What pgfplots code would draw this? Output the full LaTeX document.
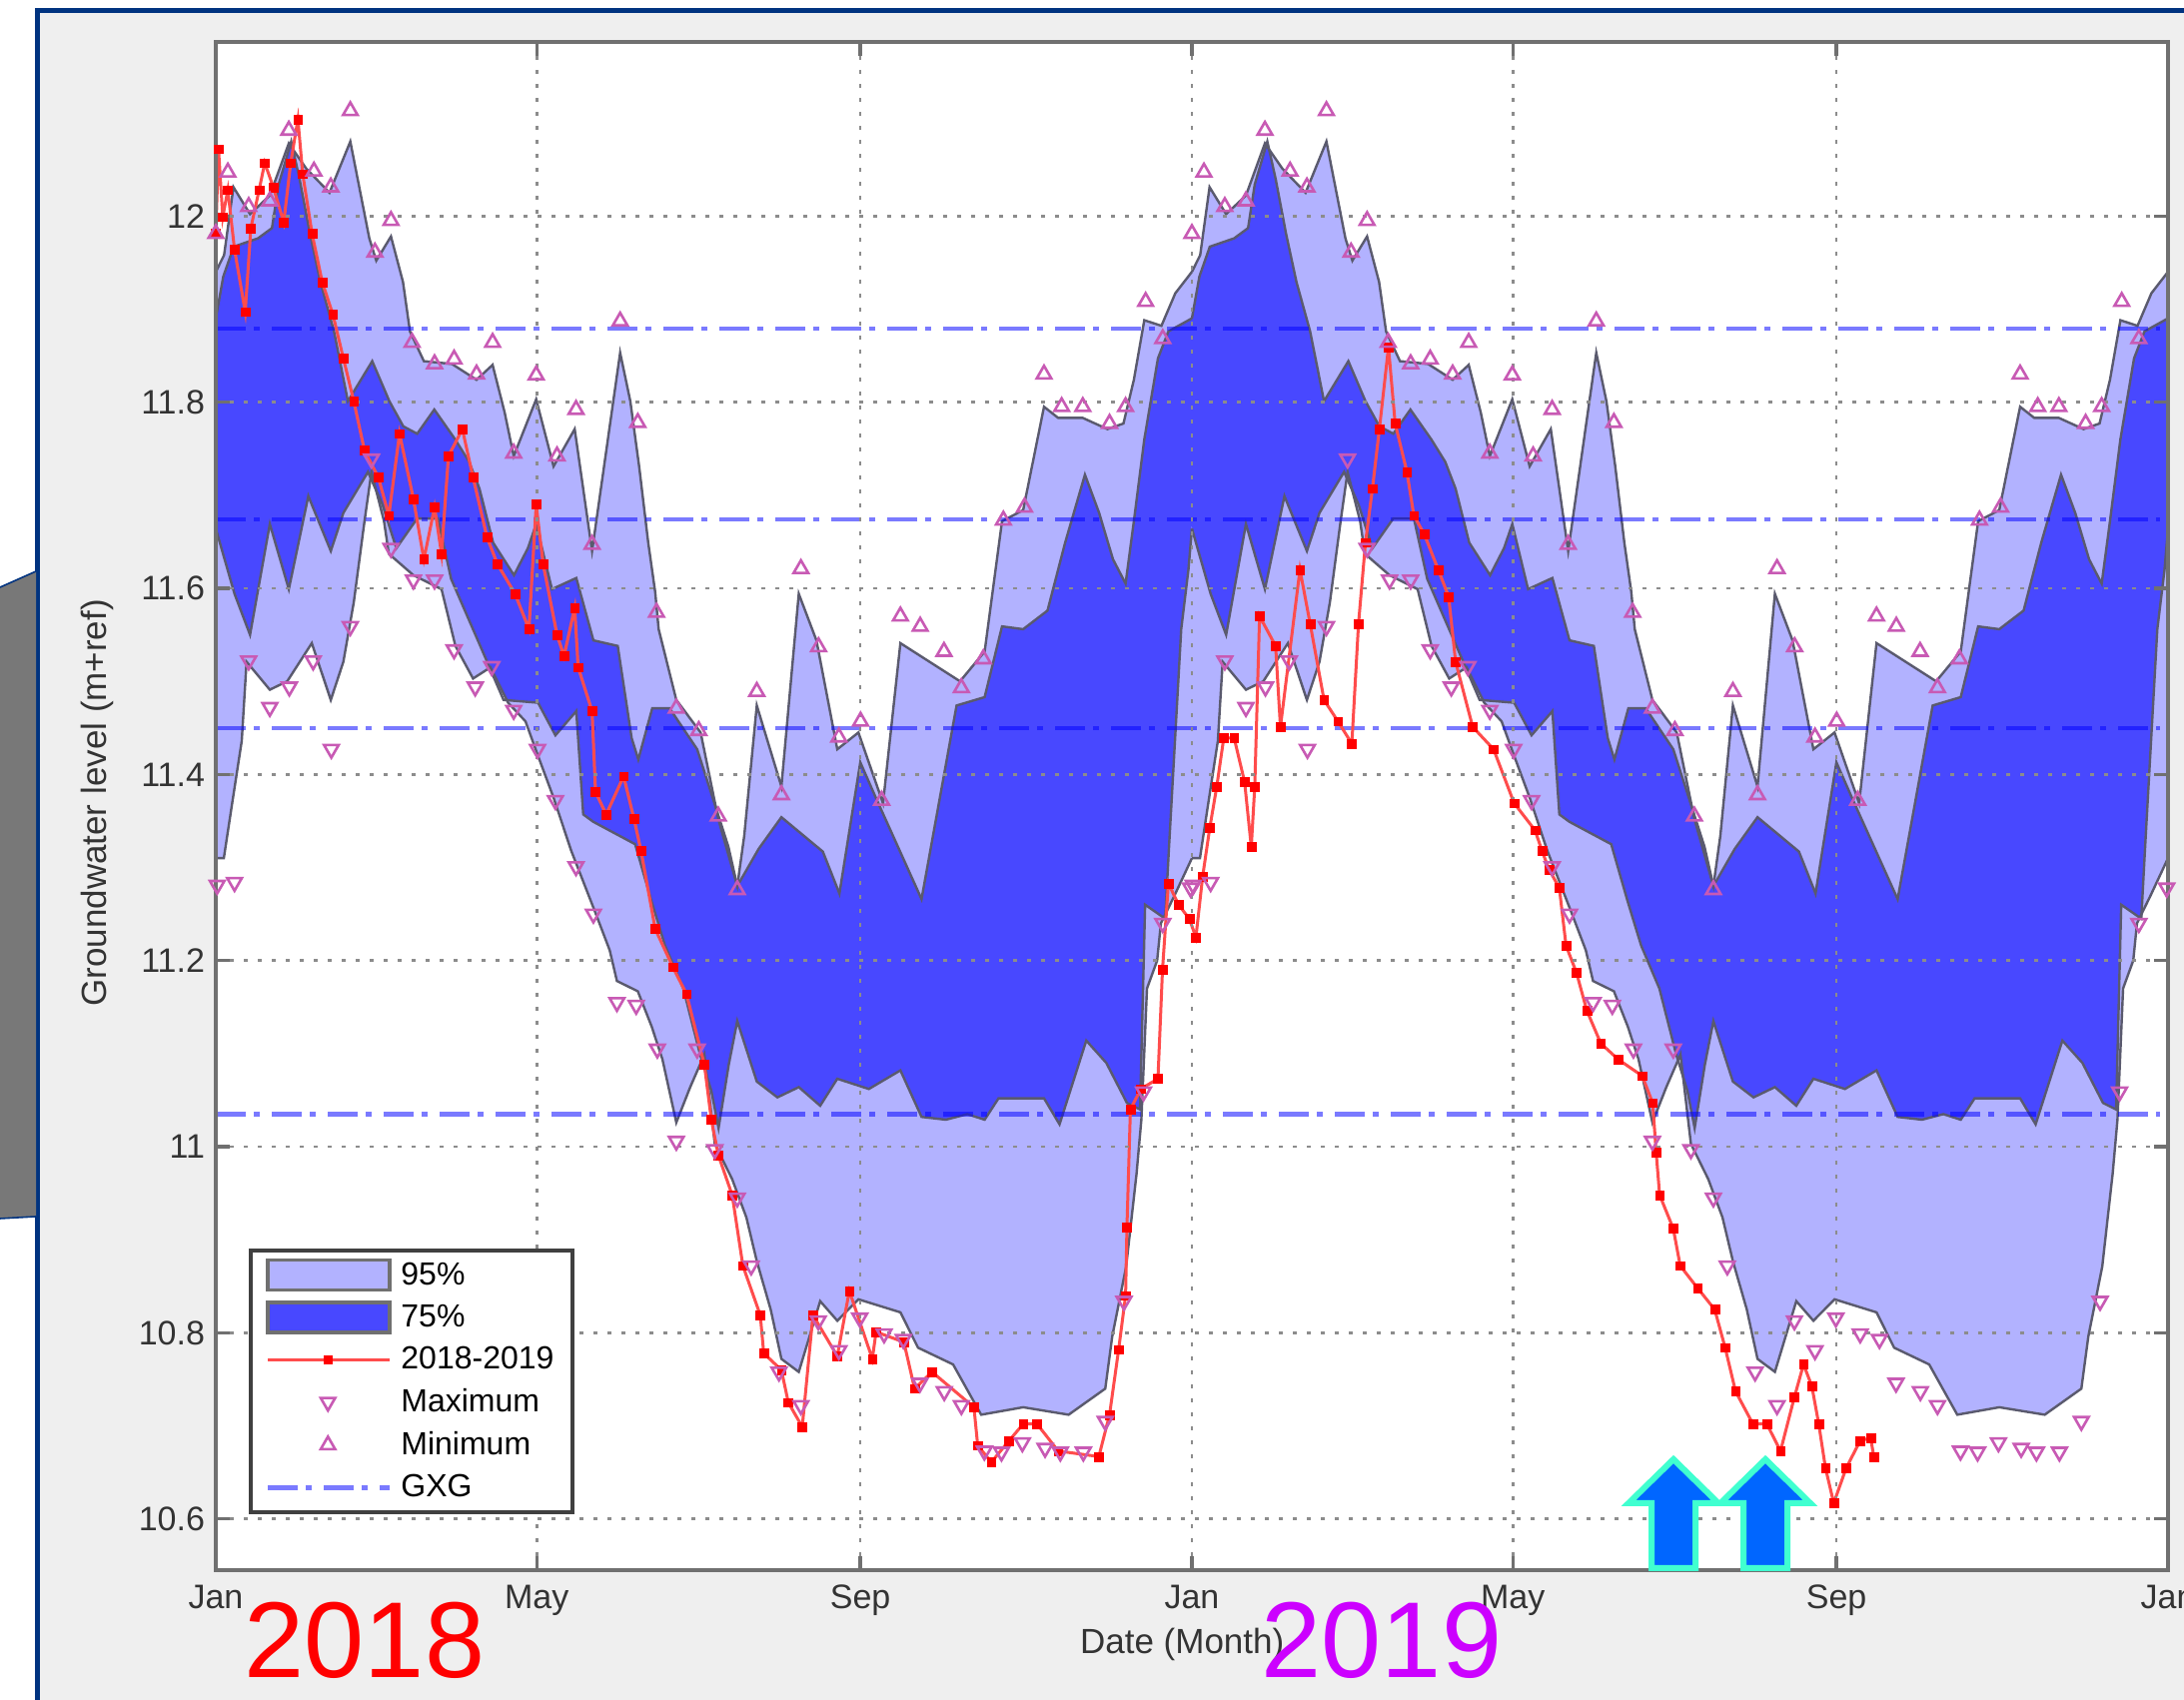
\documentclass[border=0pt]{standalone}
\usepackage{fontspec}
\setmainfont{Liberation Sans}
\usepackage{pgfplots}
\usepackage{pgfplotstable}
\pgfplotsset{compat=1.18}

\definecolor{band95}{HTML}{B2B2FF}
\definecolor{band75}{HTML}{4848FF}
\definecolor{edge}{HTML}{5A5A6E}
\definecolor{frame}{HTML}{707070}
\definecolor{marker}{HTML}{C85AB4}
\definecolor{panel}{HTML}{EFEFEF}
\definecolor{navy}{HTML}{003380}
\definecolor{textgrey}{HTML}{333333}

\pgfplotsset{
  swatch/.style={legend image code/.code={\draw[##1] (0pt,-7.5pt) rectangle (61pt,7.5pt);}},
  linekey/.style={legend image code/.code={\draw[##1] plot coordinates {(0pt,0pt)(30pt,0pt)(61pt,0pt)};}},
  markkey/.style={legend image code/.code={\draw[##1] plot coordinates {(30pt,0pt)};}},
  dashkey/.style={legend image code/.code={\draw[##1] (0pt,0pt) -- (61pt,0pt);}},
}

% one year of the percentile bands (day of year, level); the chart repeats it
\pgfplotstableread{
d v
0 11.94
3.1 11.958
6.6 12.031
12.8 12.002
20.2 12.022
27.3 12.078
33.8 12.051
42.5 12.025
50.3 12.080
57.4 11.976
60 11.952
65.5 11.978
70 11.929
72.6 11.876
77.8 11.844
88.3 11.841
97.5 11.824
103.5 11.840
108 11.789
111.4 11.742
119.8 11.803
126.3 11.731
134.2 11.771
140.7 11.640
151.2 11.853
155 11.801
158.3 11.731
161.7 11.649
164.3 11.596
165.6 11.556
172.2 11.480
181.3 11.445
187.9 11.352
195 11.280
197.6 11.334
202.3 11.474
211.5 11.387
218 11.594
224.6 11.544
232.4 11.427
240.3 11.445
249.5 11.369
256 11.541
278.3 11.500
287.5 11.532
294 11.672
301.9 11.684
309.7 11.795
315 11.783
324.2 11.783
333.4 11.771
339.4 11.777
343.3 11.824
347.2 11.888
353.6 11.882
358.8 11.917
365 11.94
}\upperNF

\pgfplotstableread{
d v
0 11.89
2.8 11.935
6.7 11.967
15.8 11.976
21 11.987
23.5 12.034
28.2 12.080
31.3 12.040
35.2 11.981
39.1 11.929
44.2 11.876
49.4 11.801
58.5 11.844
64.9 11.801
70.1 11.774
75.3 11.766
81.7 11.792
89.5 11.760
94.7 11.736
98.6 11.707
103.7 11.649
111.5 11.614
116.7 11.643
119.8 11.669
125.7 11.599
134.8 11.611
141.2 11.544
150.3 11.538
155.5 11.439
158 11.416
163.2 11.471
169.7 11.471
180 11.427
191.7 11.322
195 11.280
203 11.32
211.5 11.354
227 11.317
233.2 11.272
241 11.413
246.8 11.375
263.9 11.266
277 11.474
287.5 11.483
294 11.559
301.9 11.556
311 11.576
317.6 11.649
325 11.722
330.3 11.681
335.5 11.631
340.2 11.605
343.3 11.672
347.2 11.760
352.3 11.847
356.2 11.876
365 11.89
}\upperSF

\pgfplotstableread{
d v
0 11.664
7 11.594
12.8 11.550
20.2 11.669
27.3 11.599
34.6 11.699
43 11.640
47.7 11.681
56.9 11.725
62.3 11.690
67.5 11.643
75.3 11.675
83 11.675
88 11.610
99.8 11.532
107.6 11.480
120.5 11.477
127 11.442
134.8 11.468
137.4 11.357
141.2 11.349
156.8 11.325
163 11.263
168 11.216
174.8 11.170
181 11.100
185.3 11.060
188 11.020
191.8 11.088
195 11.135
202.3 11.070
210 11.053
218 11.064
226 11.044
232.4 11.073
244.2 11.062
256 11.082
263.9 11.032
273 11.029
281 11.035
287.5 11.029
292.7 11.052
309.7 11.052
315.5 11.024
325.5 11.114
333 11.090
340.7 11.047
345.6 11.040
347.5 11.260
355 11.245
356.4 11.320
361 11.556
363.7 11.620
365 11.664
}\lowerSF

\pgfplotstableread{
d v
0 11.31
3 11.31
5.8 11.363
9.7 11.436
11.5 11.521
20.2 11.491
26.7 11.500
35.9 11.541
43 11.480
47.7 11.521
51.6 11.585
55.6 11.672
58.2 11.725
62.9 11.672
64.7 11.637
73.9 11.614
84.4 11.599
89.6 11.538
96.2 11.503
102.7 11.515
109.3 11.477
115.8 11.457
121 11.416
126.3 11.375
132.9 11.318
142 11.251
147.3 11.211
150 11.178
157.8 11.167
163 11.129
167 11.094
172.2 11.026
177.4 11.064
182.7 11.099
186.6 11.003
193.1 10.965
198.4 10.924
202.3 10.877
207.5 10.825
211.5 10.772
218 10.758
226 10.834
232.4 10.813
240.3 10.836
256 10.822
262.6 10.784
275.7 10.766
286.2 10.712
301.9 10.720
318.9 10.712
332.6 10.740
335.2 10.796
340.4 10.871
344.3 10.971
346.1 11.029
348.2 11.170
352 11.200
353.4 11.240
358.5 11.270
365 11.31
}\lowerNF

% yearly minimum and maximum markers
\pgfplotstableread{
d v
0 11.981
4.5 12.047
12.3 12.010
20.2 12.016
27.3 12.092
36.7 12.048
43 12.031
50.3 12.113
59.5 11.961
65.5 11.995
73.4 11.864
81.8 11.841
89.1 11.846
97.5 11.830
103.5 11.864
111.4 11.745
119.8 11.829
127.6 11.742
134.7 11.792
140.7 11.647
151.2 11.887
157.8 11.778
164.8 11.574
172.2 11.471
180.6 11.447
187.9 11.355
195 11.276
202.3 11.489
211.5 11.378
218.8 11.621
225.4 11.537
233 11.440
241.1 11.457
249 11.372
256 11.570
263.4 11.559
272.3 11.532
278.8 11.493
287 11.524
294.5 11.673
302.4 11.687
309.7 11.830
316.3 11.795
324.2 11.795
334.2 11.777
340.2 11.795
347.7 11.908
354.1 11.868
}\minima

\pgfplotstableread{
d v
0.5 11.281
7 11.284
12.3 11.522
20.2 11.472
27.5 11.494
36.4 11.522
43.2 11.427
50.3 11.559
58.2 11.739
65.5 11.643
73.9 11.609
81.8 11.609
89.1 11.534
97 11.494
103.2 11.516
111.4 11.469
120.3 11.427
127 11.372
134.7 11.301
141.2 11.250
150 11.155
157.2 11.152
165.1 11.105
172.2 11.006
180 11.105
186.6 10.997
195 10.945
200.2 10.872
210.6 10.758
218.8 10.722
225.3 10.813
233 10.781
240.8 10.816
249.9 10.799
257.1 10.793
263.3 10.746
272.4 10.737
278.8 10.722
287.4 10.673
293.8 10.672
301.6 10.682
310.1 10.676
315.8 10.672
324.4 10.672
332.6 10.705
339.6 10.834
346.9 11.059
354.1 11.240
364.5 11.278
}\maxima

% observed level 2018-2019
\pgfplotstableread{
d v
0 11.981
1 12.072
2.6 11.999
4.5 12.028
7 11.964
11 11.897
13.1 11.987
16.2 12.028
18.3 12.057
21.5 12.031
25.4 11.993
28 12.057
30.7 12.104
32.5 12.045
36 11.981
39.8 11.929
43.8 11.894
47.7 11.847
51.6 11.801
55.6 11.748
60.8 11.719
64.7 11.678
68.7 11.766
73.9 11.696
77.8 11.631
81.8 11.687
84.4 11.637
87 11.742
92.2 11.771
96.2 11.719
101.4 11.655
105.3 11.626
111.9 11.594
117.1 11.556
119.8 11.690
122.4 11.626
127.6 11.550
130.2 11.527
134.2 11.579
135.5 11.515
140.7 11.468
142 11.381
146 11.357
152.5 11.398
156.4 11.352
159 11.318
164.3 11.234
170.9 11.193
176 11.164
182.7 11.088
185.3 11.029
187.9 10.991
193.1 10.948
197.1 10.872
203.6 10.819
204.9 10.778
211.5 10.760
214.1 10.725
219.3 10.699
223.3 10.819
232.4 10.775
236.9 10.845
245.5 10.772
246.9 10.801
257.3 10.790
261.3 10.740
267.8 10.758
283.5 10.720
284.9 10.679
290 10.661
296.6 10.684
301.9 10.702
307.1 10.702
315 10.673
330.2 10.667
334.2 10.712
337.6 10.782
340.2 10.840
340.7 10.913
342 11.040
345.9 11.062
352.3 11.073
354 11.19
356.2 11.283
360 11.26
364 11.245
366.5 11.225
369 11.29
371.7 11.343
374.3 11.387
376.9 11.439
380.8 11.439
384.7 11.392
387.2 11.322
388.5 11.387
390.3 11.570
396.3 11.538
398.1 11.451
405.4 11.620
409.2 11.562
414.4 11.480
419.6 11.457
424.8 11.433
427.3 11.562
429.9 11.649
432.5 11.707
435.1 11.771
438.5 11.859
441 11.777
445.4 11.725
448 11.678
451.9 11.658
457.1 11.620
461 11.591
463.6 11.521
470 11.451
477.8 11.427
485.5 11.369
493.3 11.340
495.9 11.318
498.5 11.298
502.4 11.278
504.9 11.216
508.8 11.187
512.7 11.146
517.9 11.111
524.3 11.094
533.4 11.076
537.3 11.047
538.6 10.994
539.9 10.948
545 10.912
547.6 10.872
554.1 10.848
560.5 10.825
564.4 10.784
568.3 10.737
574.8 10.702
580 10.702
585.1 10.673
590.3 10.731
593.7 10.766
596.8 10.743
599.4 10.702
601.9 10.655
605 10.617
609.7 10.655
614.9 10.684
618.8 10.687
620 10.667
}\observed

\begin{document}
\begin{tikzpicture}
\useasboundingbox (0,0) rectangle (1093pt,851pt);
\fill[white] (0,0) rectangle (1093pt,851pt);

% slide background, coordinates in reference pixels
\begin{scope}[shift={(0,851pt)},x=0.5pt,y=-0.5pt]
  \fill[panel] (37,10) rectangle (2186,1702);
  \draw[navy,line width=2.5pt] (37.5,1702) -- (37.5,10.5) -- (2186,10.5);
  \fill[black!53] (0,588) -- (36,572) -- (36,1218) -- (0,1220) -- cycle;
  \draw[navy,line width=0.8pt] (0,588) -- (36,572) (0,1220) -- (36,1218);
\end{scope}

\begin{axis}[
    at={(108pt,65pt)},
    anchor=south west,
    scale only axis,
    width=977pt,
    height=765pt,
    xmin=0, xmax=730,
    ymin=10.545, ymax=12.187,
    axis background/.style={fill=white},
    axis on top,
    axis line style={frame,line width=1.6pt},
    xtick={0,120,241,365,485,606,730},
    xticklabels={Jan,May,Sep,Jan,May,Sep,Jan},
    ytick={10.6,10.8,11,11.2,11.4,11.6,11.8,12},
    scaled y ticks=false,
    /pgf/number format/assume math mode=true,
    tick style={frame,line width=1.6pt},
    major tick length=7pt,
    tick align=inside,
    grid=major,
    grid style={black!45,line width=1.3pt,dash pattern=on 2pt off 5pt},
    tick label style={font=\fontsize{17}{17}\selectfont,text=textgrey},
    xticklabel style={yshift=-4pt},
    yticklabel style={xshift=-2pt},
    xlabel={Date (Month)},
    ylabel={Groundwater level (m+ref)},
    label style={font=\fontsize{17.5}{17.5}\selectfont,text=textgrey},
    xlabel style={at={(axis description cs:0.495,-0.0485)},anchor=center},
    ylabel style={at={(axis description cs:-0.0605,0.502)},anchor=center},
    legend cell align=left,
    legend style={
      at={(axis description cs:0.0169,0.0366)},
      anchor=south west,
      draw=black!75,
      line width=2pt,
      fill=white,
      font=\fontsize{16}{16}\selectfont,
      row sep=4.4pt,
      inner xsep=7.5pt,
      inner ysep=4pt,
      nodes={text=black,line width=0.8pt},
      /tikz/every odd column/.append style={column sep=2.5pt},
    },
    bandfill/.style={fill=#1,draw=#1,line width=0.3pt,forget plot},
    bandedge/.style={edge,line width=1.2pt,forget plot},
    observed/.style={draw=red!70,line width=1.5pt,mark=square*,mark size=2.2pt,
      mark options={fill=red,draw=red,line width=0.2pt}},
    minmark/.style={only marks,mark=triangle,mark size=4.2pt,
      mark options={draw=marker,line width=1.3pt,fill=none}},
    maxmark/.style={only marks,mark=triangle,mark size=4.2pt,
      mark options={draw=marker,line width=1.3pt,fill=none,rotate=180}},
    gxg/.style={blue,opacity=0.52,line width=2.2pt,
      dash pattern=on 15pt off 4pt on 3pt off 6pt},
]

% legend first, the plots themselves are all forget plot
\addlegendimage{swatch,fill=band95,draw=frame,line width=1.8pt}
\addlegendentry{95\%}
\addlegendimage{swatch,fill=band75,draw=frame,line width=1.8pt}
\addlegendentry{75\%}
\addlegendimage{linekey,observed,mark repeat=2,mark phase=2}
\addlegendentry{2018-2019}
\addlegendimage{markkey,maxmark}
\addlegendentry{Maximum}
\addlegendimage{markkey,minmark}
\addlegendentry{Minimum}
\addlegendimage{dashkey,gxg}
\addlegendentry{GXG}

% bands painted from the top down, each area reaching to the bottom of the axis
\addplot[bandfill=band95] table[x=d,y=v] {\upperNF} \closedcycle;
\addplot[bandfill=band95] table[x expr=\thisrow{d}+365,y=v] {\upperNF} \closedcycle;
\addplot[bandfill=band75] table[x=d,y=v] {\upperSF} \closedcycle;
\addplot[bandfill=band75] table[x expr=\thisrow{d}+365,y=v] {\upperSF} \closedcycle;
\addplot[bandfill=band95] table[x=d,y=v] {\lowerSF} \closedcycle;
\addplot[bandfill=band95] table[x expr=\thisrow{d}+365,y=v] {\lowerSF} \closedcycle;
\addplot[bandfill=white] table[x=d,y=v] {\lowerNF} \closedcycle;
\addplot[bandfill=white] table[x expr=\thisrow{d}+365,y=v] {\lowerNF} \closedcycle;

% band edges for both years
\addplot[bandedge] table[x=d,y=v] {\upperNF};
\addplot[bandedge] table[x expr=\thisrow{d}+365,y=v] {\upperNF};
\addplot[bandedge] table[x=d,y=v] {\lowerNF};
\addplot[bandedge] table[x expr=\thisrow{d}+365,y=v] {\lowerNF};
\addplot[bandedge] table[x=d,y=v] {\upperSF};
\addplot[bandedge] table[x expr=\thisrow{d}+365,y=v] {\upperSF};
\addplot[bandedge] table[x=d,y=v] {\lowerSF};
\addplot[bandedge] table[x expr=\thisrow{d}+365,y=v] {\lowerSF};

% GXG levels
\addplot[gxg,forget plot] coordinates {(0,11.879)(727,11.879)};
\addplot[gxg,forget plot] coordinates {(0,11.674)(727,11.674)};
\addplot[gxg,forget plot] coordinates {(0,11.450)(727,11.450)};
\addplot[gxg,forget plot] coordinates {(0,11.035)(727,11.035)};

\addplot[observed,forget plot] table[x=d,y=v] {\observed};

\addplot[minmark,forget plot] table[x=d,y=v] {\minima};
\addplot[minmark,forget plot] table[x expr=\thisrow{d}+365,y=v] {\minima};
\addplot[maxmark,forget plot] table[x=d,y=v] {\maxima};
\addplot[maxmark,forget plot] table[x expr=\thisrow{d}+365,y=v] {\maxima};
\end{axis}

% annotations on top of the chart
\begin{scope}[shift={(0,851pt)},x=0.5pt,y=-0.5pt]
  \node[text=red,font=\fontsize{54}{54}\selectfont] at (365,1642) {2018};
  \node[text={rgb,255:red,204;green,0;blue,255},font=\fontsize{54}{54}\selectfont] at (1383,1642) {2019};
  \foreach \cx in {1675,1767} {
    \draw[line width=3pt,draw={rgb,255:red,64;green,255;blue,208},
          fill={rgb,255:red,0;green,102;blue,255},miter limit=4]
      (\cx,1461) -- (\cx+45,1505) -- (\cx+22,1505) -- (\cx+22,1570)
      -- (\cx-22,1570) -- (\cx-22,1505) -- (\cx-45,1505) -- cycle;
  }
\end{scope}
\end{tikzpicture}
\end{document}
